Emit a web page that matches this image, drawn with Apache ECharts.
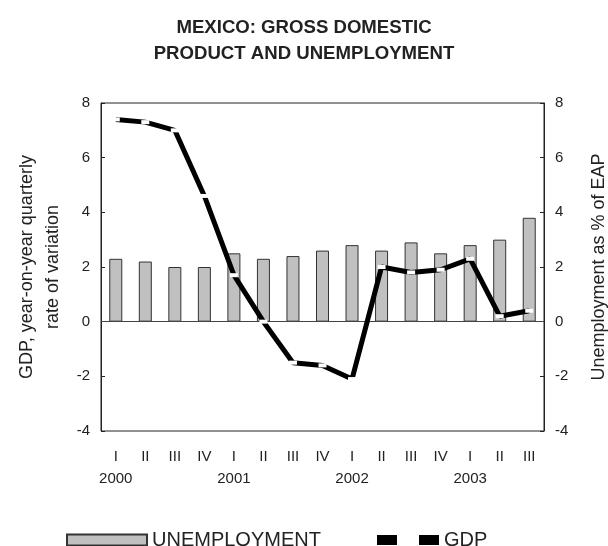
<!DOCTYPE html>
<html>
<head>
<meta charset="utf-8">
<script src="https://cdn.jsdelivr.net/npm/echarts@6/dist/echarts.min.js"></script>
<style>html,body{margin:0;padding:0;background:#fff}#c{width:608px;height:546px}</style>
</head>
<body>
<div id="c"></div>
<script>
const quarters = ['I','II','III','IV','I','II','III','IV','I','II','III','IV','I','II','III'];
const years = ['2000','','','','2001','','','','2002','','','','2003','',''];
const unemployment = [2.3, 2.2, 2.0, 2.0, 2.5, 2.3, 2.4, 2.6, 2.8, 2.6, 2.9, 2.5, 2.8, 3.0, 3.8];
const gdp = [7.4, 7.3, 7.0, 4.6, 1.7, 0.0, -1.5, -1.6, -2.1, 2.0, 1.8, 1.9, 2.3, 0.2, 0.4];
const yTicks = [-4, -2, 0, 2, 4, 6, 8];

const categories = quarters.map((q, i) => q + '\n' + years[i]);
const font = 'Liberation Sans, Arial, sans-serif';

const chart = echarts.init(document.getElementById('c'), null, {renderer: 'canvas'});
const yAxisCommon = {
  type: 'value', min: yTicks[0], max: yTicks[yTicks.length - 1], interval: 2,
  splitLine: {show: false},
  axisLine: {show: true, lineStyle: {color: '#222', width: 1}},
  axisTick: {show: true, inside: true, length: 4, lineStyle: {color: '#222'}},
  axisLabel: {color: '#222', fontSize: 15, fontFamily: font, margin: 11},
  nameLocation: 'middle',
  nameTextStyle: {color: '#222', fontSize: 18, fontFamily: font, lineHeight: 26}
};
chart.setOption({
  animation: false,
  backgroundColor: '#fff',
  title: {
    text: 'MEXICO: GROSS DOMESTIC\nPRODUCT AND UNEMPLOYMENT',
    left: 'center', top: 10,
    textStyle: {fontSize: 18.6, fontWeight: 'bold', color: '#222', fontFamily: font, lineHeight: 26}
  },
  grid: {left: 101, right: 64, top: 103, bottom: 115, show: true, borderColor: '#222', borderWidth: 1, outerBoundsMode: 'none', containLabel: false},
  legend: [{
    data: [{name: 'UNEMPLOYMENT', icon: 'rect'}],
    left: 61, top: 525, itemWidth: 80, itemHeight: 11, itemGap: 10,
    textStyle: {fontSize: 20, color: '#222', fontFamily: font}
  }, {
    data: [{name: 'GDP', icon: 'path://M0,0h20v10h-20z M42,0h20v10h-20z', itemStyle: {color: '#000'}}],
    left: 372, top: 525, itemWidth: 62, itemHeight: 10, itemGap: 13,
    textStyle: {fontSize: 20, color: '#222', fontFamily: font}
  }],
  xAxis: {
    type: 'category', data: categories, position: 'bottom',
    axisLine: {show: false, onZero: false}, axisTick: {show: false},
    axisLabel: {color: '#222', fontSize: 15, fontFamily: font, lineHeight: 22, margin: 15, interval: 0}
  },
  yAxis: [
    Object.assign({}, yAxisCommon, {position: 'left', name: 'GDP, year-on-year quarterly\nrate of variation', nameGap: 34}),
    Object.assign({}, yAxisCommon, {position: 'right', name: 'Unemployment as % of EAP', nameGap: 42, nameRotate: 90})
  ],
  series: [{
    name: 'UNEMPLOYMENT', type: 'bar', yAxisIndex: 1, data: unemployment,
    barWidth: 13,
    itemStyle: {color: '#c0c0c0', borderColor: '#333', borderWidth: 1},
    markLine: {
      silent: true, symbol: 'none', label: {show: false},
      lineStyle: {color: '#444', width: 1, type: 'solid'},
      data: [{yAxis: 0}]
    }
  }, {
    name: 'GDP', type: 'line', yAxisIndex: 0, data: gdp,
    lineStyle: {color: '#000', width: 5},
    itemStyle: {color: '#fff', borderWidth: 0},
    symbol: 'rect', symbolSize: [8, 4], showSymbol: true,
    z: 5
  }]
});
</script>
</body>
</html>
